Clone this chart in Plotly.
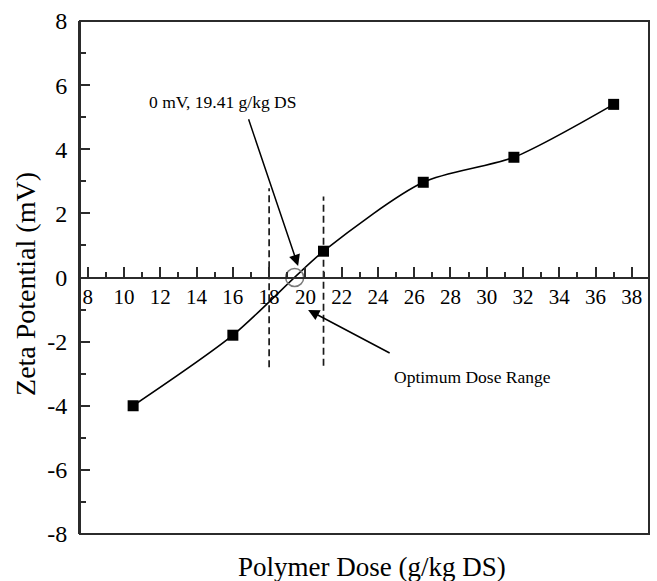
import plotly.graph_objects as go

# Zeta potential vs polymer dose
dose = [10.5, 16.0, 21.0, 26.5, 31.5, 37.0]
zeta = [-4.0, -1.8, 0.82, 2.97, 3.75, 5.4]

# Isoelectric point (0 mV)
iep_dose = [19.41]
iep_zeta = [0.0]

# Optimum dose range bounds (dashed guides)
opt_dose = [18.0, 21.0]
opt_top = [2.78, 2.53]
opt_bottom = [-2.8, -2.75]

x_ticks = list(range(8, 40, 2))
y_ticks = list(range(-8, 10, 2))

SERIF = "Liberation Serif"
AXIS = "#2b2b2b"

fig = go.Figure()

for xd, yt, yb in zip(opt_dose, opt_top, opt_bottom):
    fig.add_trace(go.Scatter(
        x=[xd, xd], y=[yb, yt], mode="lines",
        line=dict(color="#1a1a1a", width=1.7, dash="7px,4px"),
        hoverinfo="skip", showlegend=False,
    ))

fig.add_trace(go.Scatter(
    x=dose, y=zeta, mode="lines+markers",
    line=dict(color="black", width=1.6, shape="spline", smoothing=0.75),
    marker=dict(symbol="square", size=11, color="black"),
    showlegend=False,
))

fig.add_trace(go.Scatter(
    x=iep_dose, y=iep_zeta, mode="markers",
    marker=dict(symbol="circle-open", size=18, color="#7a7a7a",
                line=dict(width=1.5, color="#7a7a7a")),
    showlegend=False,
))

fig.update_layout(
    width=657, height=581,
    margin=dict(l=80, r=8, t=19, b=47),
    paper_bgcolor="white", plot_bgcolor="white",
    font=dict(family=SERIF, color="black"),
    xaxis=dict(
        range=[7.57, 38.95], anchor="free", position=0.5,
        tickmode="array", tickvals=x_ticks, ticktext=[str(t) for t in x_ticks],
        ticks="inside", ticklen=10, tickwidth=1.5, tickcolor=AXIS,
        minor=dict(dtick=1, tick0=9, ticks="inside", ticklen=5, tickwidth=1.5, tickcolor=AXIS),
        showline=True, linecolor=AXIS, linewidth=2,
        showgrid=False, zeroline=False,
        tickfont=dict(size=21, family=SERIF, color="black"),
    ),
    yaxis=dict(
        range=[-8, 8],
        tickmode="array", tickvals=y_ticks, ticktext=[str(t) for t in y_ticks],
        ticks="inside", ticklen=10, tickwidth=1.5, tickcolor=AXIS,
        minor=dict(dtick=1, tick0=-7, ticks="inside", ticklen=6, tickwidth=1.5, tickcolor=AXIS),
        showline=True, linecolor=AXIS, linewidth=2,
        showgrid=False, zeroline=False,
        tickfont=dict(size=24, family=SERIF, color="black"),
        ticklabelstandoff=6,
    ),
    shapes=[dict(type="rect", xref="paper", yref="paper", x0=0, y0=0, x1=1, y1=1,
                 line=dict(color=AXIS, width=2), fillcolor="rgba(0,0,0,0)", layer="above")],
)

annotations = [
    # axis titles
    dict(text="Polymer Dose (g/kg DS)", xref="paper", yref="paper", x=0.513, y=-0.064,
         showarrow=False, xanchor="center", yanchor="middle",
         font=dict(size=27, family=SERIF, color="black")),
    dict(text="Zeta Potential (mV)", xref="paper", yref="paper", x=-0.097, y=0.487,
         textangle=-90, showarrow=False, xanchor="center", yanchor="middle",
         font=dict(size=28, family=SERIF, color="black")),
    # callout labels
    dict(text="0 mV, 19.41 g/kg DS", x=15.43, y=5.48, xref="x", yref="y",
         showarrow=False, font=dict(size=17.5, family=SERIF, color="black")),
    dict(text="Optimum Dose Range", x=29.2, y=-3.09, xref="x", yref="y",
         showarrow=False, font=dict(size=17.5, family=SERIF, color="black")),
    # arrows
    dict(text="", x=19.6, y=0.36, ax=16.84, ay=4.98, xref="x", yref="y",
         axref="x", ayref="y", showarrow=True, arrowhead=2, arrowsize=1.5,
         arrowwidth=1.5, arrowcolor="black"),
    dict(text="", x=20.15, y=-1.01, ax=24.73, ay=-2.38, xref="x", yref="y",
         axref="x", ayref="y", showarrow=True, arrowhead=2, arrowsize=1.5,
         arrowwidth=1.5, arrowcolor="black"),
]
fig.update_layout(annotations=annotations)

fig.write_html("out.html")
